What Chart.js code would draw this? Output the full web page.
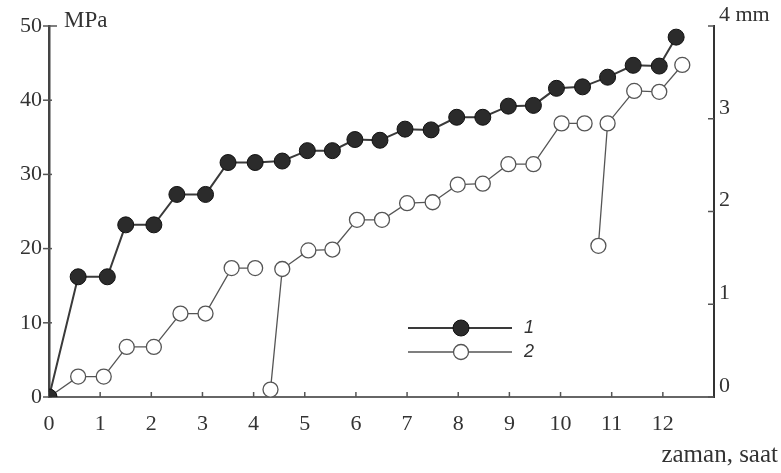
<!DOCTYPE html>
<html><head><meta charset="utf-8">
<script src="https://cdn.jsdelivr.net/npm/chart.js@4"></script>
<style>html,body{margin:0;padding:0;background:#fff}#wrap{width:781px;height:473px;position:relative}canvas{display:block}</style>
</head><body><div id="wrap"><canvas id="c" width="781" height="473" style="width:781px;height:473px"></canvas></div>
<script>
// ---- data ----
const xTickValues = [0,1,2,3,4,5,6,7,8,9,10,11,12];
const leftTickValues = [0,10,20,30,40,50];
const rightTickValues = [0,1,2,3,4];
const seriesNames = ['1','2'];
// series 1: stress, MPa (left axis)
const s1Time   = [0,0.57,1.14,1.5,2.05,2.5,3.06,3.5,4.03,4.56,5.05,5.54,5.98,6.47,6.96,7.47,7.97,8.48,8.98,9.47,9.92,10.43,10.92,11.42,11.93,12.26];
const s1Stress = [0,16.2,16.2,23.2,23.2,27.3,27.3,31.6,31.6,31.8,33.2,33.2,34.7,34.6,36.1,36.0,37.7,37.7,39.2,39.3,41.6,41.8,43.1,44.7,44.6,48.5];
// series 2: displacement, mm (right axis); null = break in the curve
const s2Time = [0,0.57,1.07,1.52,2.05,2.57,3.06,3.57,4.03,4.2,4.33,4.56,5.07,5.54,6.02,6.51,7.0,7.5,7.99,8.48,8.98,9.47,10.02,10.47,10.6,10.74,10.92,11.44,11.93,12.38];
const s2Disp = [0,0.22,0.22,0.54,0.54,0.90,0.90,1.39,1.39,null,0.08,1.38,1.58,1.59,1.91,1.91,2.09,2.10,2.29,2.30,2.51,2.51,2.95,2.95,null,1.63,2.95,3.30,3.29,3.58];

const FONT = 'Liberation Serif';
const TXT = '#333';

const extras = {
  id: 'extras',
  beforeDatasetsDraw(chart) {
    const ctx = chart.ctx, x = chart.scales.x, yl = chart.scales.y, yr = chart.scales.y1;
    ctx.save();
    ctx.strokeStyle = '#555'; ctx.lineWidth = 1.5;
    x.ticks.forEach(t => { const px = x.getPixelForValue(t.value); ctx.beginPath(); ctx.moveTo(px, yl.bottom); ctx.lineTo(px, yl.bottom - 5); ctx.stroke(); });
    yl.ticks.forEach(t => { const py = yl.getPixelForValue(t.value); ctx.beginPath(); ctx.moveTo(x.left - 6, py); ctx.lineTo(x.left + (t.value === 50 ? 8 : 3), py); ctx.stroke(); });
    yr.ticks.forEach(t => { const py = yr.getPixelForValue(t.value); ctx.beginPath(); ctx.moveTo(x.right, py); ctx.lineTo(x.right - 6, py); ctx.stroke(); });
    ctx.restore();
  },
  afterDraw(chart) {
    const ctx = chart.ctx, x = chart.scales.x, yl = chart.scales.y;
    ctx.save();
    ctx.fillStyle = TXT;
    ctx.textBaseline = 'middle';
    ctx.font = '23px ' + FONT;
    ctx.textAlign = 'left';
    ctx.fillText('MPa', x.left + 15, yl.getPixelForValue(50) - 5);
    ctx.font = '25px ' + FONT;
    ctx.textAlign = 'right';
    ctx.fillText('zaman, saat', 778, 455);
    const items = [
      {y: 328, ds: chart.data.datasets[1]},
      {y: 352, ds: chart.data.datasets[0]}
    ];
    items.forEach(it => {
      ctx.strokeStyle = it.ds.borderColor; ctx.lineWidth = it.ds.borderWidth;
      ctx.beginPath(); ctx.moveTo(408, it.y); ctx.lineTo(512, it.y); ctx.stroke();
      ctx.beginPath(); ctx.arc(461, it.y, it.ds.pointRadius, 0, Math.PI * 2);
      ctx.fillStyle = it.ds.pointBackgroundColor; ctx.fill();
      ctx.strokeStyle = it.ds.pointBorderColor; ctx.lineWidth = it.ds.pointBorderWidth; ctx.stroke();
      ctx.fillStyle = TXT; ctx.textAlign = 'left';
      ctx.font = 'italic 18px Liberation Sans';
      ctx.fillText(it.ds.label, 524, it.y);
    });
    ctx.restore();
  }
};

new Chart(document.getElementById('c'), {
  type: 'line',
  data: {
    datasets: [
      {
        label: seriesNames[1],
        data: s2Time.map((t, i) => ({x: t, y: s2Disp[i]})),
        yAxisID: 'y1',
        borderColor: '#555', borderWidth: 1.3,
        pointRadius: 7.5, pointBackgroundColor: '#fff', pointBorderColor: '#555', pointBorderWidth: 1.3,
        spanGaps: false, tension: 0, order: 2
      },
      {
        label: seriesNames[0],
        data: s1Time.map((t, i) => ({x: t, y: s1Stress[i]})),
        yAxisID: 'y',
        borderColor: '#3a3a3a', borderWidth: 2,
        pointRadius: 8, pointBackgroundColor: '#2b2b2b', pointBorderColor: '#111', pointBorderWidth: 1,
        tension: 0, order: 1
      }
    ]
  },
  options: {
    responsive: false,
    maintainAspectRatio: false,
    animation: false,
    devicePixelRatio: 1,
    layout: {padding: {top: 26, left: 0, right: 0, bottom: 0}},
    plugins: {legend: {display: false}, tooltip: {enabled: false}},
    scales: {
      x: {
        type: 'linear', min: 0, max: 13,
        afterBuildTicks: s => { s.ticks = xTickValues.map(v => ({value: v})); },
        afterFit: s => { s.height = 76; },
        grid: {display: true, drawOnChartArea: false, drawTicks: false},
        border: {display: true, color: '#666', width: 2},
        ticks: {padding: 14, color: TXT, font: {family: FONT, size: 22}, maxRotation: 0, autoSkip: false}
      },
      y: {
        type: 'linear', position: 'left', min: 0, max: 50,
        afterBuildTicks: s => { s.ticks = leftTickValues.map(v => ({value: v})); },
        afterFit: s => { s.width = 49; },
        grid: {display: true, drawOnChartArea: false, drawTicks: false},
        border: {display: true, color: '#444', width: 2.5},
        ticks: {padding: 7, color: TXT, font: {family: FONT, size: 22}}
      },
      y1: {
        type: 'linear', position: 'right', min: 0, max: 4,
        afterBuildTicks: s => { s.ticks = rightTickValues.map(v => ({value: v})); },
        afterFit: s => { s.width = 67; },
        grid: {display: true, drawOnChartArea: false, drawTicks: false},
        border: {display: true, color: '#333', width: 2},
        ticks: {padding: 5, labelOffset: -11, color: TXT, font: {family: FONT, size: 22},
                callback: v => v === 4 ? '4 mm' : String(v)}
      }
    }
  },
  plugins: [extras]
});
</script></body></html>
